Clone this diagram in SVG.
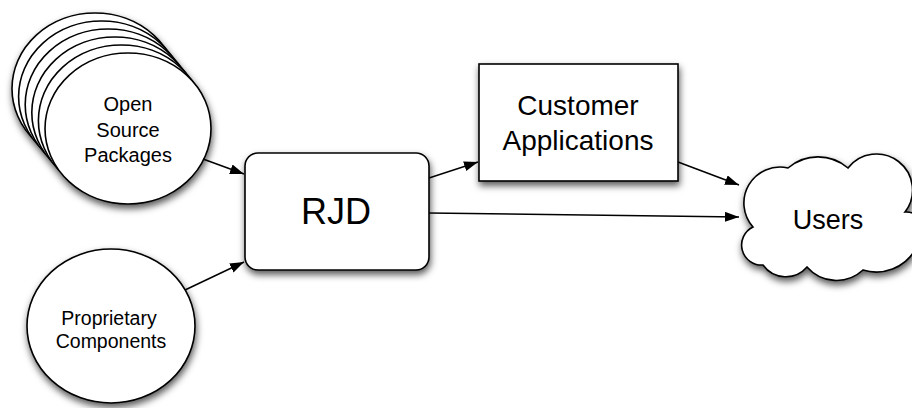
<svg xmlns="http://www.w3.org/2000/svg" width="912" height="408" viewBox="0 0 912 408">
  <defs>
    <filter id="shadow" x="-20%" y="-20%" width="140%" height="150%">
      <feDropShadow dx="1" dy="4" stdDeviation="3.5" flood-color="#000" flood-opacity="0.65"/>
    </filter>
    <marker id="arrow" markerUnits="userSpaceOnUse" markerWidth="15" markerHeight="11" refX="14" refY="5" orient="auto">
      <path d="M0,0 L14,5 L0,10 Z" fill="#000"/>
    </marker>
  </defs>
  <style>
    .shape { fill: #fff; stroke: #000; stroke-width: 1.6; }
    .label { font-family: "Liberation Sans", Arial, sans-serif; fill: #000; text-anchor: middle; }
    .conn { fill: none; stroke: #000; stroke-width: 1.5; marker-end: url(#arrow); }
  </style>

  <g id="open-source-packages">
    <g filter="url(#shadow)">
      <ellipse class="shape" cx="95" cy="88.5" rx="83" ry="75.5"/>
      <ellipse class="shape" cx="101.6" cy="96.5" rx="83" ry="75.5"/>
      <ellipse class="shape" cx="108.2" cy="104.5" rx="83" ry="75.5"/>
      <ellipse class="shape" cx="114.8" cy="112.5" rx="83" ry="75.5"/>
      <ellipse class="shape" cx="121.4" cy="120.5" rx="83" ry="75.5"/>
      <ellipse class="shape" cx="128" cy="128.5" rx="83" ry="75.5"/>
    </g>
    <text class="label" font-size="20" x="128" y="111">Open</text>
    <text class="label" font-size="20" x="128" y="137">Source</text>
    <text class="label" font-size="20" x="128" y="162">Packages</text>
  </g>

  <g id="proprietary-components">
    <ellipse class="shape" filter="url(#shadow)" cx="111" cy="326" rx="84" ry="77"/>
    <text class="label" font-size="19.5" x="109" y="325">Proprietary</text>
    <text class="label" font-size="19.5" x="111" y="348">Components</text>
  </g>

  <g id="rjd">
    <rect class="shape" filter="url(#shadow)" x="245" y="153" width="184" height="117" rx="13" ry="13"/>
    <text class="label" font-size="36" x="336" y="224">RJD</text>
  </g>

  <g id="customer-applications">
    <rect class="shape" filter="url(#shadow)" x="479" y="64" width="199" height="117"/>
    <text class="label" font-size="28" x="578" y="115">Customer</text>
    <text class="label" font-size="28" x="578" y="150">Applications</text>
  </g>

  <g id="users">
    <path class="shape" filter="url(#shadow)" d="M753,227 A36,36 0 0 1 788,168 A46,46 0 0 1 848,168 A36,36 0 0 1 905,212 A20,20 0 0 1 915,250 A45,45 0 0 1 863,270 A39,39 0 0 1 807,267 A28,28 0 0 1 763,265 A20,20 0 0 1 753,227 Z"/>
    <text class="label" font-size="27" x="828" y="229">Users</text>
  </g>

  <g id="connectors">
    <line class="conn" x1="203" y1="159" x2="244" y2="174"/>
    <line class="conn" x1="185" y1="290" x2="244" y2="262"/>
    <line class="conn" x1="429" y1="178" x2="478" y2="162"/>
    <line class="conn" x1="429" y1="213" x2="739" y2="217"/>
    <line class="conn" x1="678" y1="162" x2="739" y2="185"/>
  </g>
</svg>
